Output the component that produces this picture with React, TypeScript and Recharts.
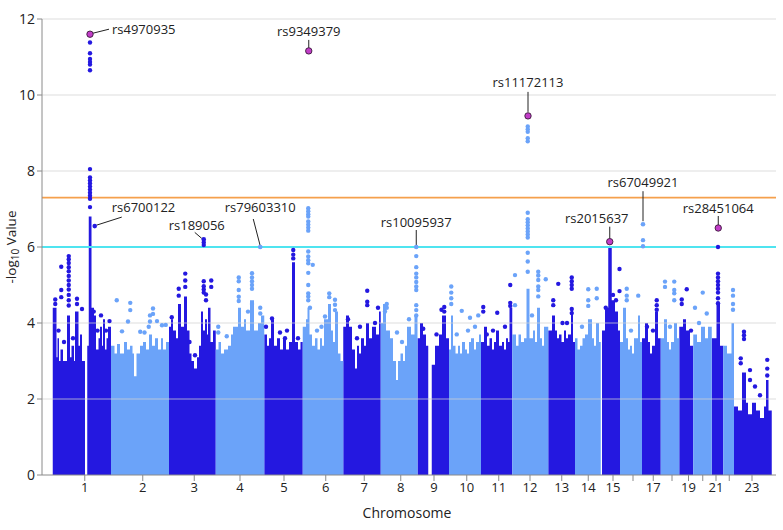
import React from 'react';
import { ComposedChart, Area, Scatter, XAxis, YAxis, ReferenceLine } from 'recharts';

// ---------- colours ----------
const DARK = '#2418e0';
const LIGHT = '#6ba3f9';
const HIT = '#c23dc8';

// ---------- x axis: cumulative genomic position (Mb) ----------
const chromTicks = [171, 403, 609, 792, 968, 1135, 1289, 1435, 1568, 1699, 1827, 1952, 2079, 2185, 2284, 2364, 2445, 2520, 2586, 2643, 2696, 2749, 2840];
const chromTickLabels = ['1', '2', '3', '4', '5', '6', '7', '8', '9', '10', '11', '12', '13', '14', '15', '', '17', '', '19', '', '21', '', '23'];
const yTicks = [0, 2, 4, 6, 8, 10, 12];
const gridValues = [2, 4, 8, 10, 12];
const suggestiveLine = 6;
const genomeWideLine = 7.3;

// ---------- dense bulk of each chromosome: [position, upper -log10 P] ----------
const chr1a = [[43, 4.4], [58, 3.1], [62, 3.6], [68, 3.0], [74, 3.3], [84, 3.0], [100, 4.2], [112, 3.1], [118, 3.4], [128, 3.0], [132, 4.3], [146, 3.4], [152, 3.7], [160, 3.0], [172, 3.0]];
const chr1b = [[181, 3.4], [187, 6.8], [198, 4.4], [208, 4.2], [216, 3.3], [226, 3.6], [232, 3.9], [240, 3.4], [244, 4.1], [252, 3.3], [258, 3.6], [264, 3.9], [276, 3.9]];
const chr2 = [[276, 3.4], [290, 3.2], [300, 3.45], [312, 3.2], [328, 3.5], [340, 3.3], [352, 3.4], [362, 3.2], [368, 2.6], [378, 3.2], [392, 3.4], [404, 3.5], [416, 3.3], [428, 3.7], [440, 3.4], [452, 3.6], [464, 3.3], [476, 3.6], [484, 3.3], [496, 3.5], [508, 3.5]];
const chr3 = [[508, 3.9], [516, 4.1], [524, 3.8], [536, 3.6], [544, 4.5], [556, 3.9], [568, 4.7], [580, 3.8], [590, 3.2], [598, 3.0], [608, 2.8], [620, 3.1], [628, 3.4], [636, 4.3], [644, 3.8], [652, 4.1], [660, 3.7], [664, 4.4], [674, 3.5], [684, 3.8], [695, 3.8]];
const chr4 = [[695, 3.3], [706, 3.5], [716, 3.2], [728, 3.3], [744, 3.4], [756, 3.7], [764, 3.9], [784, 4.4], [796, 3.9], [808, 4.1], [816, 3.8], [832, 4.6], [848, 3.8], [864, 4.0], [876, 4.2], [889, 4.2]];
const chr5 = [[889, 3.7], [900, 3.4], [908, 3.6], [916, 4.1], [928, 3.4], [940, 3.6], [952, 3.3], [964, 3.6], [976, 3.3], [988, 3.5], [1000, 5.6], [1012, 3.5], [1024, 3.3], [1034, 3.5], [1043, 3.5]];
const chr6 = [[1043, 3.9], [1056, 4.1], [1062, 4.4], [1070, 3.7], [1080, 3.4], [1092, 3.6], [1102, 3.3], [1112, 3.6], [1120, 3.4], [1128, 4.1], [1144, 4.5], [1156, 3.8], [1164, 3.5], [1172, 4.3], [1184, 3.2], [1194, 3.0], [1205, 3.0]];
const chr7 = [[1205, 3.9], [1216, 4.2], [1228, 3.9], [1240, 3.3], [1252, 2.8], [1260, 3.4], [1268, 3.2], [1276, 3.6], [1288, 3.4], [1296, 4.0], [1308, 3.6], [1320, 3.9], [1336, 3.7], [1348, 4.3], [1355, 4.3]];
const chr8 = [[1355, 4.0], [1364, 4.5], [1376, 3.8], [1392, 3.6], [1404, 3.0], [1416, 2.5], [1424, 3.0], [1434, 3.2], [1444, 3.0], [1452, 3.4], [1460, 3.9], [1476, 3.7], [1490, 4.2], [1502, 4.2]];
const chr9a = [[1502, 3.6], [1512, 4.0], [1524, 3.7], [1536, 3.4], [1545, 3.4]];
const chr9b = [[1559, 2.9], [1572, 3.4], [1588, 3.7], [1600, 4.2], [1616, 3.6], [1628, 3.6]];
const chr10 = [[1628, 3.3], [1636, 4.2], [1644, 3.4], [1654, 3.2], [1664, 3.4], [1672, 3.2], [1680, 3.5], [1692, 3.3], [1700, 3.2], [1708, 3.5], [1716, 3.6], [1728, 3.3], [1736, 3.5], [1748, 3.7], [1756, 3.7]];
const chr11 = [[1756, 3.5], [1768, 3.9], [1780, 3.4], [1790, 3.6], [1800, 3.3], [1808, 3.5], [1816, 3.8], [1828, 3.4], [1840, 3.5], [1848, 3.3], [1856, 3.6], [1864, 3.5], [1870, 4.4], [1881, 4.4]];
const chr12 = [[1881, 3.7], [1896, 3.4], [1906, 3.7], [1916, 3.5], [1928, 3.6], [1938, 4.9], [1950, 3.6], [1964, 3.8], [1972, 3.5], [1980, 4.4], [1992, 3.6], [2000, 3.4], [2008, 3.9], [2025, 3.9]];
const chr13 = [[2025, 3.8], [2040, 4.2], [2052, 3.8], [2060, 3.6], [2068, 3.7], [2078, 3.5], [2088, 3.8], [2096, 3.6], [2104, 3.7], [2116, 4.4], [2124, 3.5], [2132, 3.5]];
const chr14 = [[2132, 3.6], [2142, 3.3], [2152, 3.4], [2162, 3.6], [2172, 3.7], [2184, 4.1], [2200, 3.6], [2208, 3.4], [2216, 4.0], [2228, 3.5], [2235, 3.5]];
const chr15 = [[2240, 3.8], [2252, 4.4], [2265, 6.0], [2279, 4.6], [2292, 4.3], [2304, 3.8], [2312, 3.8]];
const chr16 = [[2312, 3.5], [2324, 4.4], [2336, 3.6], [2344, 3.3], [2352, 3.4], [2360, 3.2], [2368, 3.6], [2384, 4.2], [2392, 3.5], [2400, 3.5]];
const chr17 = [[2400, 3.6], [2412, 4.0], [2424, 3.5], [2432, 3.2], [2440, 3.4], [2452, 4.3], [2464, 3.6], [2475, 3.6]];
const chr18 = [[2475, 3.6], [2488, 4.1], [2500, 3.5], [2508, 3.3], [2516, 3.5], [2528, 4.0], [2540, 3.6], [2549, 3.6]];
const chr19 = [[2549, 3.9], [2564, 4.1], [2576, 3.8], [2592, 3.4], [2605, 3.4]];
const chr20 = [[2605, 3.7], [2620, 3.5], [2636, 3.9], [2652, 3.6], [2664, 3.9], [2679, 3.9]];
const chr21 = [[2679, 3.6], [2698, 4.5], [2712, 3.4], [2725, 3.4]];
const chr22 = [[2725, 3.4], [2740, 3.2], [2758, 4.0], [2768, 4.0]];
const chr23 = [[2768, 1.8], [2784, 1.7], [2800, 2.7], [2816, 1.9], [2824, 1.6], [2840, 1.9], [2856, 1.7], [2872, 1.5], [2888, 1.8], [2896, 2.5], [2906, 1.7], [2919, 1.7]];

const darkSegments = [chr1a, chr1b, chr3, chr5, chr7, chr9a, chr9b, chr11, chr13, chr15, chr17, chr19, chr21, chr23];
const lightSegments = [chr2, chr4, chr6, chr8, chr10, chr12, chr14, chr16, chr18, chr20, chr22];

// ---------- individual SNPs above the bulk: [position, -log10 P] ----------
const darkSnps = [
  [53, 4.5], [53, 4.62], [77, 5.48], [77, 4.87], [77, 4.68], [66, 3.8], [88, 3.5], [124, 3.6],
  [107, 5.76], [107, 5.68], [107, 5.58], [107, 5.47], [107, 5.36], [107, 5.24], [107, 5.12], [107, 5.0], [107, 4.88], [107, 4.74], [107, 4.6], [107, 4.46],
  [140, 4.64], [140, 4.5], [160, 4.37],
  [192, 7.05], [192, 7.27], [192, 7.35], [192, 7.43], [192, 7.51], [192, 7.59], [192, 7.67], [192, 7.75], [192, 7.83], [192, 8.05],
  [192, 10.65], [192, 10.8], [192, 10.87], [192, 10.95], [192, 11.1], [192, 11.38],
  [207, 4.3], [236, 4.2], [222, 3.8], [256, 3.8], [270, 4.05],
  [519, 4.15], [547, 4.9], [547, 4.72], [573, 5.3], [573, 5.12], [573, 4.95], [590, 3.5], [612, 3.15],
  [647, 5.1], [647, 4.97], [647, 4.88], [647, 4.8], [677, 5.12], [677, 4.95], [656, 4.75], [656, 4.6], [647, 6.05], [647, 6.12],
  [1005, 5.92], [1005, 5.8], [1005, 5.7], [920, 4.12], [980, 3.8], [952, 3.75], [972, 3.6], [1024, 3.6], [896, 3.9],
  [1301, 4.85], [1301, 4.56], [1301, 4.47], [1260, 3.6], [1224, 4.1], [1272, 3.9], [1332, 4.0], [1344, 4.4],
  [1609, 4.42], [1609, 4.3], [1525, 3.85], [1598, 4.35], [1578, 3.7],
  [1765, 4.42], [1765, 4.3], [1821, 4.27], [1873, 5.0], [1873, 4.53], [1873, 4.45], [1779, 3.7], [1804, 3.8], [1852, 3.9],
  [2045, 4.6], [2045, 4.47], [2065, 5.03], [2119, 5.2], [2119, 5.1], [2119, 5.0], [2119, 4.9], [2119, 4.37], [2119, 4.26], [2082, 4.0], [2100, 4.0],
  [2310, 5.42], [2310, 4.84], [2255, 4.4], [2284, 4.74], [2296, 4.6],
  [2459, 4.6], [2459, 4.47], [2459, 4.35], [2420, 3.9], [2444, 3.8],
  [2579, 4.89], [2559, 4.62], [2559, 4.5], [2596, 3.8],
  [2704, 5.3], [2704, 5.2], [2704, 5.1], [2704, 5.0], [2704, 4.9], [2704, 4.8], [2704, 4.65], [2704, 4.52], [2704, 6.0],
  [2808, 3.77], [2808, 3.68], [2808, 3.58], [2795, 3.07], [2795, 2.94], [2832, 2.76], [2832, 2.5], [2852, 2.33], [2872, 2.1], [2901, 3.03], [2901, 2.8], [2901, 2.62],
];
const lightSnps = [
  [299, 4.6], [353, 4.53], [353, 4.34], [344, 4.04], [320, 3.78], [393, 3.77], [444, 4.38], [444, 4.24], [432, 4.2], [432, 4.04], [427, 3.9], [480, 3.94], [460, 4.05], [495, 3.95], [410, 3.75],
  [705, 3.9], [705, 3.75], [739, 3.65], [787, 5.2], [787, 5.1], [787, 4.87], [787, 4.69], [787, 4.58],
  [840, 5.31], [840, 5.2], [840, 5.1], [840, 5.0], [840, 4.9], [840, 4.5], [873, 4.4], [873, 4.25], [824, 4.3],
  [1065, 7.02], [1065, 6.94], [1065, 6.86], [1065, 6.8], [1065, 6.67], [1065, 6.59], [1065, 6.51], [1065, 6.43],
  [1065, 5.88], [1065, 5.75], [1065, 5.65], [1065, 5.57], [1065, 5.32], [1065, 5.0], [1065, 4.78], [1065, 4.7], [1065, 4.6],
  [1083, 5.53], [1072, 4.4], [1149, 4.78], [1149, 4.68], [1172, 4.61], [1172, 4.48], [1172, 4.34], [1132, 4.17], [1100, 3.8], [1118, 3.9],
  [1497, 5.76], [1497, 5.47], [1497, 5.3], [1497, 5.2], [1497, 5.08], [1497, 4.96], [1497, 4.87], [1497, 4.47], [1497, 4.34], [1497, 4.2],
  [1379, 4.5], [1379, 4.4], [1420, 3.75], [1372, 4.3], [1440, 3.5], [1468, 4.1],
  [1637, 4.96], [1637, 4.8], [1637, 4.65], [1637, 4.5], [1679, 4.32], [1712, 4.14], [1745, 4.2], [1659, 3.7], [1704, 3.8], [1732, 3.9],
  [1892, 5.26], [1892, 4.47],
  [1943, 5.35], [1943, 5.62], [1943, 5.85], [1943, 6.25], [1943, 6.33], [1943, 6.41], [1943, 6.49], [1943, 6.57], [1943, 6.65], [1943, 6.73], [1943, 6.9],
  [1943, 8.78], [1943, 8.86], [1943, 9.03], [1943, 9.1], [1943, 9.17],
  [1985, 5.35], [1985, 5.25], [1985, 5.13], [1985, 4.96], [1985, 4.87], [1985, 4.7], [2015, 5.15], [1960, 4.2],
  [2185, 4.89], [2185, 4.6], [2185, 4.45], [2219, 4.9], [2219, 4.65], [2160, 3.9],
  [2339, 4.9], [2339, 4.72], [2339, 4.6], [2385, 4.72], [2404, 6.18], [2404, 6.02], [2356, 3.8],
  [2492, 5.09], [2492, 4.95], [2529, 5.09], [2529, 4.87], [2529, 4.78], [2529, 4.6], [2512, 3.9],
  [2643, 4.8], [2612, 4.4], [2659, 4.25], [2628, 4.0],
  [2764, 4.87], [2764, 4.72], [2764, 4.5], [2764, 4.35],
];

// ---------- labelled lead SNPs ----------
const leadSnps = [
  { label: 'rs4970935', x: 192, y: 11.6, kind: 'hit' },
  { label: 'rs9349379', x: 1067, y: 11.16, kind: 'hit' },
  { label: 'rs11172113', x: 1944, y: 9.45, kind: 'hit' },
  { label: 'rs67049921', x: 2404, y: 6.6, kind: 'light' },
  { label: 'rs2015637', x: 2271, y: 6.14, kind: 'hit' },
  { label: 'rs28451064', x: 2705, y: 6.5, kind: 'hit' },
  { label: 'rs6700122', x: 211, y: 6.55, kind: 'dark' },
  { label: 'rs189056', x: 647, y: 6.2, kind: 'dark' },
  { label: 'rs79603310', x: 873, y: 6.0, kind: 'light' },
  { label: 'rs10095937', x: 1497, y: 6.0, kind: 'light' },
];

// label placement (pixel offsets from the point): text dx/dy, anchor, leader line
const labelPlacement: Record<string, { t: [number, number]; a: string; l: [number, number, number, number] }> = {
  rs4970935: { t: [22, -5], a: 'start', l: [3, -1, 19, -5] },
  rs9349379: { t: [0, -20], a: 'middle', l: [0, -3, 0, -11] },
  rs11172113: { t: [0, -34], a: 'middle', l: [0, -4, 0, -24] },
  rs67049921: { t: [0, -42], a: 'middle', l: [0, -3, 0, -33] },
  rs2015637: { t: [-13, -24], a: 'middle', l: [0, -3, 0, -15] },
  rs28451064: { t: [0, -20], a: 'middle', l: [0, -3, 0, -12] },
  rs6700122: { t: [17, -19], a: 'start', l: [2, -1, 27, -9] },
  rs189056: { t: [-7, -14], a: 'middle', l: [-2, -1, -9, -7] },
  rs79603310: { t: [0, -40], a: 'middle', l: [0, -1, -7, -28] },
  rs10095937: { t: [0, -25], a: 'middle', l: [0, -2, 0, -17] },
};

const toPts = (arr: number[][]) => arr.map(([x, y]) => ({ x, y }));

const makeDot = (color: string) => (props: any) => {
  const { cx, cy } = props;
  if (cx == null || cy == null) return <g />;
  return <circle cx={cx} cy={cy} r={2.2} fill={color} />;
};

const LeadShape = (props: any) => {
  const { cx, cy, payload } = props;
  if (cx == null || cy == null) return <g />;
  const p = labelPlacement[payload.label];
  const isHit = payload.kind === 'hit';
  const fill = isHit ? HIT : payload.kind === 'dark' ? DARK : LIGHT;
  return (
    <g>
      <line x1={cx + p.l[0]} y1={cy + p.l[1]} x2={cx + p.l[2]} y2={cy + p.l[3]} stroke="#222" strokeWidth={1} />
      <circle cx={cx} cy={cy} r={isHit ? 3.2 : 2.3} fill={fill} stroke={isHit ? '#3a1a3a' : 'none'} strokeWidth={0.9} />
      <text
        x={cx + p.t[0]}
        y={cy + p.t[1]}
        textAnchor={p.a as any}
        dominantBaseline="central"
        fontSize={13}
        fill="#222"
        fontFamily='"Open Sans", sans-serif'
      >
        {payload.label}
      </text>
    </g>
  );
};

const YLabel = (props: any) => {
  const vb = props.viewBox || { x: 0, y: 19, width: 42, height: 456 };
  const cy = vb.y + vb.height / 2;
  const cx = 11;
  return (
    <text
      x={cx}
      y={cy}
      transform={`rotate(-90 ${cx} ${cy})`}
      textAnchor="middle"
      dominantBaseline="central"
      fontSize={13.5}
      fill="#222"
      fontFamily='"Open Sans", sans-serif'
    >
      <tspan>-log</tspan>
      <tspan fontSize={10} dy={4}>10</tspan>
      <tspan dy={-4}> Value</tspan>
    </text>
  );
};

const XLabel = (props: any) => {
  const vb = props.viewBox || { x: 42, y: 475, width: 734, height: 30 };
  return (
    <text
      x={vb.x + vb.width / 2 - 2}
      y={512}
      textAnchor="middle"
      dominantBaseline="central"
      fontSize={14}
      fill="#222"
      fontFamily='"Open Sans", sans-serif'
    >
      Chromosome
    </text>
  );
};

export default function App() {
  return (
    <div style={{ position: 'absolute', left: 0, top: 0, width: 783, height: 530, background: '#fff', fontFamily: '"Open Sans", sans-serif' }}>
      <ComposedChart width={783} height={530} margin={{ top: 19, right: 7, bottom: 25, left: 0 }}>
        <XAxis
          type="number"
          dataKey="x"
          domain={[0, 2936]}
          allowDataOverflow
          ticks={chromTicks}
          interval={0}
          tickFormatter={(v: number) => chromTickLabels[chromTicks.indexOf(v)] ?? ''}
          tick={{ fontSize: 13, fill: '#222' }}
          tickSize={6}
          axisLine={{ stroke: '#8a8a8a' }}
          tickLine={{ stroke: '#8a8a8a' }}
          height={30}
          label={<XLabel />}
        />
        <YAxis
          type="number"
          domain={[0, 12]}
          ticks={yTicks}
          interval={0}
          width={42}
          tick={{ fontSize: 14, fill: '#222' }}
          tickSize={5}
          axisLine={{ stroke: '#8a8a8a' }}
          tickLine={{ stroke: '#8a8a8a' }}
          label={<YLabel />}
        />
        {darkSegments.map((seg, i) => (
          <Area
            key={'d' + i}
            data={toPts(seg)}
            dataKey="y"
            type="stepAfter"
            stroke="none"
            fill={DARK}
            fillOpacity={1}
            dot={false}
            activeDot={false}
            isAnimationActive={false}
          />
        ))}
        {lightSegments.map((seg, i) => (
          <Area
            key={'l' + i}
            data={toPts(seg)}
            dataKey="y"
            type="stepAfter"
            stroke="none"
            fill={LIGHT}
            fillOpacity={1}
            dot={false}
            activeDot={false}
            isAnimationActive={false}
          />
        ))}
        <Scatter data={toPts(darkSnps)} dataKey="y" shape={makeDot(DARK)} isAnimationActive={false} />
        <Scatter data={toPts(lightSnps)} dataKey="y" shape={makeDot(LIGHT)} isAnimationActive={false} />
        {gridValues.map((v) => (
          <ReferenceLine key={'g' + v} y={v} stroke="#d2d2d2" strokeOpacity={0.75} strokeWidth={1} />
        ))}
        <ReferenceLine y={genomeWideLine} stroke="#f5a04c" strokeWidth={1.6} />
        <ReferenceLine y={suggestiveLine} stroke="#4fe4f0" strokeWidth={2} />
        <Scatter data={leadSnps} dataKey="y" shape={LeadShape} isAnimationActive={false} />
      </ComposedChart>
    </div>
  );
}
